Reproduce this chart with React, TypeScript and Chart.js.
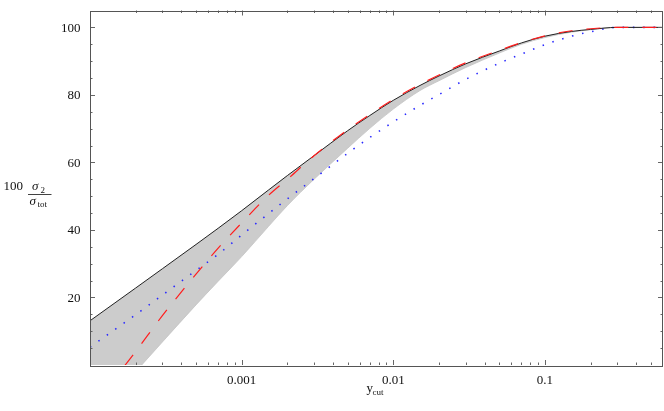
import React, { useEffect, useRef } from "react";
import { Chart, registerables } from "chart.js";

Chart.register(...registerables);

// y_cut values (log axis)
const XS = [1e-4, 2e-4, 3e-4, 5e-4, 7e-4, 1e-3, 1.5e-3, 2e-3, 3e-3, 5e-3, 7e-3, 0.01, 0.015, 0.02, 0.03, 0.05, 0.07, 0.1, 0.15, 0.2, 0.3, 0.6];
// upper edge of band (solid black)
const UPPER = [13.1, 22.8, 28.5, 35.7, 40.5, 45.7, 51.8, 56.1, 62.0, 69.4, 73.9, 78.4, 82.8, 85.6, 89.2, 93.0, 95.4, 97.4, 98.8, 99.4, 100, 100];
// lower edge of band (grey)
const LOWER = [-17, -2.0, 6.8, 17.8, 24.8, 32.1, 41.0, 47.2, 55.0, 64.2, 70.1, 75.8, 81.3, 84.2, 88.1, 92.4, 95.0, 97.0, 98.6, 99.3, 100, 100];
// red dashed
const DASHED = [-13.3, 4.0, 14.6, 26.9, 34.6, 42.1, 50.2, 55.0, 62.0, 69.7, 74.2, 78.7, 83.1, 85.9, 89.5, 93.2, 95.5, 97.5, 99.0, 99.6, 100, 100];
// blue dotted
const DOTTED = [5.3, 14.9, 20.7, 28.0, 32.8, 38.5, 44.8, 49.2, 55.2, 62.7, 67.4, 72.0, 76.9, 80.1, 84.6, 89.4, 92.1, 94.9, 97.4, 98.7, 100, 100];

const X_MIN = 1e-4;
const X_MAX = 0.6;
const Y_MIN = 0;
const Y_MAX = 105;
const X_LABELS = [0.001, 0.01, 0.1];
const X_LABEL_TEXT = ["0.001", "0.01", "0.1"];
const Y_LABELS = [20, 40, 60, 80, 100];

const SERIF = '"Liberation Serif", "Times New Roman", serif';

function pts(ys: number[]) {
  return XS.map((x, i) => ({ x, y: ys[i] }));
}

const framePlugin = {
  id: "frameTicks",
  afterDraw(chart: any) {
    const ctx = chart.ctx as CanvasRenderingContext2D;
    const { left, right, top, bottom } = chart.chartArea;
    const xs = chart.scales.x;
    const ys = chart.scales.y;
    ctx.save();
    // ticks
    ctx.strokeStyle = "#666";
    ctx.lineWidth = 1;
    ctx.beginPath();
    for (let d = 1e-4; d < 1; d *= 10) {
      for (let m = 1; m <= 9; m++) {
        const v = m * d;
        if (v <= X_MIN * 1.0001 || v >= X_MAX * 0.9999) continue;
        const major = m === 1;
        const len = major ? 5 : 2.5;
        const px = Math.round(xs.getPixelForValue(v)) + 0.5;
        ctx.moveTo(px, bottom);
        ctx.lineTo(px, bottom - len);
        ctx.moveTo(px, top);
        ctx.lineTo(px, top + len);
      }
    }
    for (let v = 5; v < Y_MAX; v += 5) {
      const major = v % 20 === 0;
      const len = major ? 5 : 2.5;
      const py = Math.round(ys.getPixelForValue(v)) + 0.5;
      ctx.moveTo(left, py);
      ctx.lineTo(left + len, py);
      ctx.moveTo(right, py);
      ctx.lineTo(right - len, py);
    }
    ctx.stroke();
    // frame
    ctx.strokeStyle = "#555";
    ctx.lineWidth = 1;
    ctx.strokeRect(Math.round(left) + 0.5, Math.round(top) + 0.5, Math.round(right - left) - 1, Math.round(bottom - top));

    // tick labels
    ctx.fillStyle = "#111";
    ctx.font = `13px ${SERIF}`;
    ctx.textBaseline = "alphabetic";
    ctx.textAlign = "center";
    X_LABELS.forEach((v, i) => {
      ctx.fillText(X_LABEL_TEXT[i], xs.getPixelForValue(v), 383.5);
    });
    ctx.textAlign = "right";
    Y_LABELS.forEach((v) => {
      ctx.fillText(String(v), 80.5, ys.getPixelForValue(v) + 4.5);
    });

    // x title: y_cut
    ctx.textAlign = "left";
    ctx.font = `13px ${SERIF}`;
    ctx.fillText("y", 366.5, 392);
    ctx.font = `9px ${SERIF}`;
    ctx.fillText("cut", 372.5, 395);

    // y title: 100 sigma_2 / sigma_tot
    ctx.font = `13px ${SERIF}`;
    ctx.fillText("100", 3.5, 190);
    ctx.font = `italic 13px ${SERIF}`;
    ctx.fillText("σ", 32, 190);
    ctx.font = `9px ${SERIF}`;
    ctx.fillText("2", 40.5, 192.5);
    ctx.strokeStyle = "#111";
    ctx.lineWidth = 0.8;
    ctx.beginPath();
    ctx.moveTo(28, 194.5);
    ctx.lineTo(51.5, 194.5);
    ctx.stroke();
    ctx.font = `italic 13px ${SERIF}`;
    ctx.fillText("σ", 29.5, 204.5);
    ctx.font = `9px ${SERIF}`;
    ctx.fillText("tot", 37.5, 206.5);
    ctx.restore();
  },
};

export default function App() {
  const ref = useRef<HTMLCanvasElement | null>(null);
  useEffect(() => {
    if (!ref.current) return;
    const chart = new Chart(ref.current, {
      type: "line",
      data: {
        datasets: [
          {
            label: "dashed",
            data: pts(DASHED),
            borderColor: "rgb(255,30,30)",
            borderWidth: 1.2,
            borderDash: [14, 14],
            pointRadius: 0,
            fill: false,
            cubicInterpolationMode: "monotone",
          },
          {
            label: "upper",
            data: pts(UPPER),
            borderColor: "#222",
            borderWidth: 1,
            pointRadius: 0,
            fill: false,
            cubicInterpolationMode: "monotone",
          },
          {
            label: "dotted",
            data: pts(DOTTED),
            borderColor: "rgb(40,40,255)",
            borderWidth: 1.6,
            borderDash: [1.5, 8.8],
            pointRadius: 0,
            fill: false,
            cubicInterpolationMode: "monotone",
          },
          {
            label: "lower",
            data: pts(LOWER),
            borderColor: "rgb(195,195,195)",
            borderWidth: 0.8,
            backgroundColor: "rgb(204,204,204)",
            pointRadius: 0,
            fill: 1,
            cubicInterpolationMode: "monotone",
          },
        ],
      },
      options: {
        responsive: false,
        animation: false,
        devicePixelRatio: 1,
        layout: { padding: { left: 90, right: 1, top: 10.5, bottom: 46 } },
        plugins: { legend: { display: false }, tooltip: { enabled: false } },
        scales: {
          x: { type: "logarithmic", min: X_MIN, max: X_MAX, display: false },
          y: { type: "linear", min: Y_MIN, max: Y_MAX, display: false },
        },
      },
      plugins: [framePlugin],
    });
    return () => chart.destroy();
  }, []);
  return (
    <div style={{ position: "fixed", left: 0, top: 0, width: 664, height: 411, background: "#fff" }}>
      <canvas ref={ref} width={664} height={411} style={{ display: "block" }} />
    </div>
  );
}
